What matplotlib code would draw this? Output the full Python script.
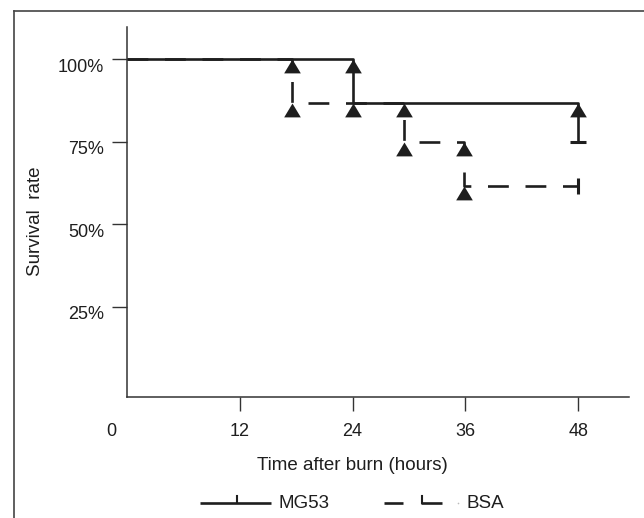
import numpy as np
import matplotlib
matplotlib.use("Agg")
import matplotlib.pyplot as plt
from matplotlib.lines import Line2D
from matplotlib.path import Path
from matplotlib.transforms import ScaledTranslation

plt.rcParams['font.family'] = ['Liberation Sans', 'DejaVu Sans']
plt.rcParams['lines.scale_dashes'] = False

# ---- data ----
x_ticks = [12, 24, 36, 48]
x_tick_labels = ["12", "24", "36", "48"]
y_ticks = [25, 50, 75, 100]
y_tick_labels = ["25%", "50%", "75%", "100%"]

mg53_t = [0, 24, 48]
mg53_s = [100, 86.7, 75]
mg53_tri_t = [24, 24, 48]
mg53_tri_s = [100, 86.7, 86.7]
mg53_cap_t = [48]
mg53_cap_s = [75]

bsa_t = [0, 17.5, 29.5, 35.8, 48]
bsa_s = [100, 86.7, 75, 61.5, 61.5]
bsa_tri_t = [17.5, 17.5, 29.5, 29.5, 35.8, 35.8]
bsa_tri_s = [100, 86.7, 86.7, 75, 75, 61.5]
bsa_cens_t = [48]
bsa_cens_s = [61.5]

W, H = 644, 518
DPI = 100
INK = '#1e1e1e'

fig = plt.figure(figsize=(W / DPI, H / DPI), dpi=DPI)

def fx(px):
    return px / W

def fy(py):
    return 1 - py / H

ax_left, ax_right, ax_top, ax_bottom = 127, 629, 27, 397
ax = fig.add_axes([fx(ax_left), fy(ax_bottom), (ax_right - ax_left) / W, (ax_bottom - ax_top) / H])
ax.set_xlim(0, 53.4)
ax.set_ylim(-2.27, 109.8)

for s in ['top', 'right']:
    ax.spines[s].set_visible(False)
for s in ['left', 'bottom']:
    ax.spines[s].set_linewidth(1.1)
    ax.spines[s].set_color('#333333')

# triangle marker, apex at the point
tri = Path([(0, 0), (-0.6, -1), (0.6, -1), (0, 0)], [Path.MOVETO, Path.LINETO, Path.LINETO, Path.CLOSEPOLY])

# BSA (dashed) first
ax.step(bsa_t, bsa_s, where='post', color=INK, lw=1.9, dashes=(15, 12), dash_capstyle='butt', zorder=2)
ax.plot(bsa_cens_t, bsa_cens_s, ls='none', marker='|', ms=11, mew=2.2, color=INK, zorder=3)
# MG53 solid
ax.step(mg53_t, mg53_s, where='post', color=INK, lw=1.9, zorder=3, solid_capstyle='butt')
ax.plot(mg53_cap_t, mg53_cap_s, ls='none', marker='_', ms=11, mew=2.2, color=INK, zorder=3)
# triangles
ax.plot(bsa_tri_t, bsa_tri_s, ls='none', marker=tri, ms=20, color=INK, mew=0, zorder=4)
ax.plot(mg53_tri_t, mg53_tri_s, ls='none', marker=tri, ms=20, color=INK, mew=0, zorder=4)

# ticks
ax.set_xticks(x_ticks)
ax.set_xticklabels(x_tick_labels)
ax.set_yticks(y_ticks)
ax.set_yticklabels(y_tick_labels)
ax.tick_params(axis='x', direction='out', length=10, width=1.0, pad=9, labelsize=13, colors='#333333', labelcolor=INK)
ax.tick_params(axis='y', direction='out', length=10.8, width=1.0, pad=5.8, labelsize=13, colors='#333333', labelcolor=INK)
for lab in ax.get_yticklabels():
    lab.set_transform(lab.get_transform() + ScaledTranslation(0, -6 / DPI, fig.dpi_scale_trans))

# "0" label in the corner
ax.annotate("0", xy=(0, 0), xycoords='axes fraction', xytext=(-16, -(14 + 12.5)),
            textcoords='offset pixels', ha='center', va='top', fontsize=13, color=INK)

# axis labels
fig.text(fx(36), fy(221), "Survival  rate", rotation=90, ha='center', va='center', fontsize=13.5, color=INK)
fig.text(fx(352), fy(465), "Time after burn (hours)", ha='center', va='center', fontsize=13.5, color=INK)

# outer frame (top and left edges visible)
fig.add_artist(Line2D([fx(13.5), fx(13.5)], [fy(11), fy(H + 5)], color='#444444', lw=1.2))
fig.add_artist(Line2D([fx(13.5), fx(W + 5)], [fy(11), fy(11)], color='#444444', lw=1.2))

# legend
ly = 503
fig.add_artist(Line2D([fx(200), fx(271)], [fy(ly), fy(ly)], color=INK, lw=1.9, solid_capstyle='butt'))
fig.add_artist(Line2D([fx(237), fx(237)], [fy(ly), fy(ly - 7)], color=INK, lw=1.5))
fig.text(fx(278), fy(ly), "MG53", ha='left', va='center', fontsize=13.5, color=INK)
fig.add_artist(Line2D([fx(384), fx(403)], [fy(ly), fy(ly)], color=INK, lw=1.9, solid_capstyle='butt'))
fig.add_artist(Line2D([fx(421), fx(442)], [fy(ly), fy(ly)], color=INK, lw=1.9, solid_capstyle='butt'))
fig.add_artist(Line2D([fx(421.7), fx(421.7)], [fy(ly), fy(ly - 7)], color=INK, lw=1.5))
fig.add_artist(Line2D([fx(458)], [fy(ly)], marker='o', ms=1.2, color='#bbbbbb', mew=0))
fig.text(fx(466), fy(ly), "BSA", ha='left', va='center', fontsize=13.5, color=INK)

fig.savefig("out.png", dpi=DPI)
